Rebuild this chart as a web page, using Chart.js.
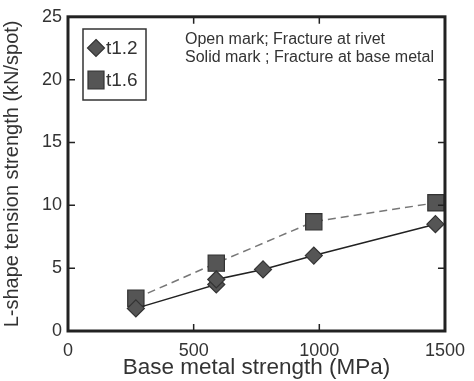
<!DOCTYPE html>
<html>
<head>
<meta charset="utf-8">
<script src="https://cdn.jsdelivr.net/npm/chart.js@4.4.0/dist/chart.umd.min.js"></script>
<style>
  html, body { margin: 0; padding: 0; background: #fff; }
  #wrap { width: 474px; height: 381px; }
</style>
</head>
<body>
<div id="wrap"><canvas id="chart"></canvas></div>
<script>
// 資料
const t12X = [270, 590, 590, 776, 978, 1462];
const t12Y = [1.8, 3.7, 4.1, 4.9, 6.0, 8.5];
const t16X = [270, 590, 978, 1464];
const t16Y = [2.6, 5.4, 8.7, 10.2];
const xTicks = [0, 500, 1000, 1500];
const yTicks = [0, 5, 10, 15, 20, 25];
const notes = ['Open mark; Fracture at rivet', 'Solid mark ; Fracture at base metal'];

const FONT = 'Arial, "Liberation Sans", Helvetica, sans-serif';

function pts(xs, ys) {
    return xs.map((x, i) => ({ x, y: ys[i] }));
}

// 外框、內向刻度、圖例與註解
const framePlugin = {
    id: 'frame',
    afterDraw(chart) {
        const { ctx, chartArea: a, scales } = chart;
        ctx.save();
        ctx.strokeStyle = '#222';
        ctx.lineWidth = 3;
        ctx.strokeRect(a.left, a.top, a.right - a.left, a.bottom - a.top);
        ctx.lineWidth = 1.5;
        const len = 7;
        xTicks.forEach(v => {
            const px = scales.x.getPixelForValue(v);
            ctx.beginPath();
            ctx.moveTo(px, a.bottom); ctx.lineTo(px, a.bottom - len);
            ctx.moveTo(px, a.top); ctx.lineTo(px, a.top + len);
            ctx.stroke();
        });
        yTicks.forEach(v => {
            const py = scales.y.getPixelForValue(v);
            ctx.beginPath();
            ctx.moveTo(a.left, py); ctx.lineTo(a.left + len, py);
            ctx.moveTo(a.right, py); ctx.lineTo(a.right - len, py);
            ctx.stroke();
        });

        // 圖例
        const lx = 83, ly = 29, lw = 63, lh = 71;
        ctx.lineWidth = 1.5;
        ctx.strokeStyle = '#333';
        ctx.fillStyle = '#fff';
        ctx.fillRect(lx, ly, lw, lh);
        ctx.strokeRect(lx, ly, lw, lh);
        const items = [
            { ds: chart.data.datasets[0], y: 48 },
            { ds: chart.data.datasets[1], y: 80 }
        ];
        items.forEach(it => {
            ctx.fillStyle = '#555';
            ctx.strokeStyle = '#333';
            ctx.lineWidth = 1.2;
            ctx.beginPath();
            const cx = 96;
            if (it.ds.pointStyle === 'rectRot') {
                const r = 8.5;
                ctx.moveTo(cx, it.y - r); ctx.lineTo(cx + r, it.y);
                ctx.lineTo(cx, it.y + r); ctx.lineTo(cx - r, it.y);
                ctx.closePath();
            } else {
                ctx.rect(cx - 8, it.y - 9, 16, 18);
            }
            ctx.fill(); ctx.stroke();
            ctx.fillStyle = '#333';
            ctx.font = '19px ' + FONT;
            ctx.textBaseline = 'middle';
            ctx.textAlign = 'left';
            ctx.fillText(it.ds.label, 106, it.y + 1);
        });

        ctx.font = '16px ' + FONT;
        ctx.fillStyle = '#333';
        ctx.textBaseline = 'middle';
        ctx.fillText(notes[0], 185, 40);
        ctx.fillText(notes[1], 185, 58);
        ctx.restore();
    }
};

const ctx = document.getElementById('chart').getContext('2d');
new Chart(ctx, {
    type: 'scatter',
    data: {
        datasets: [
            {
                label: 't1.2',
                data: pts(t12X, t12Y),
                showLine: true,
                borderColor: '#222',
                borderWidth: 1.5,
                pointStyle: 'rectRot',
                pointRadius: 8.5,
                pointBackgroundColor: '#555',
                pointBorderColor: '#333',
                pointBorderWidth: 1.2
            },
            {
                label: 't1.6',
                data: pts(t16X, t16Y),
                showLine: true,
                borderColor: '#777',
                borderWidth: 1.5,
                borderDash: [8, 5],
                pointStyle: 'rect',
                pointRadius: 11.5,
                pointBackgroundColor: '#555',
                pointBorderColor: '#333',
                pointBorderWidth: 1.2
            }
        ]
    },
    options: {
        responsive: true,
        maintainAspectRatio: false,
        animation: false,
        layout: { padding: { top: 15, right: 27, left: 0, bottom: 0 } },
        plugins: { legend: { display: false }, tooltip: { enabled: false } },
        scales: {
            x: {
                type: 'linear',
                min: 0, max: 1500,
                grid: { display: false, drawTicks: false },
                border: { display: false },
                afterBuildTicks: s => { s.ticks = xTicks.map(v => ({ value: v })); },
                afterFit: s => { s.height = 50; },
                ticks: { color: '#333', font: { family: FONT, size: 18 }, padding: 9, maxRotation: 0, callback: v => String(v) },
                title: { display: true, text: 'Base metal strength (MPa)', color: '#333', font: { family: FONT, size: 22.5 }, padding: { top: 0, bottom: 0 } }
            },
            y: {
                min: 0, max: 25,
                grid: { display: false, drawTicks: false },
                border: { display: false },
                afterBuildTicks: s => { s.ticks = yTicks.map(v => ({ value: v })); },
                afterFit: s => { s.width = 68; },
                ticks: { color: '#333', font: { family: FONT, size: 18 }, padding: 6, callback: v => String(v) },
                title: { display: true, text: 'L-shape tension strength (kN/spot)', color: '#333', font: { family: FONT, size: 20 }, padding: { top: 0, bottom: 0 } }
            }
        }
    },
    plugins: [framePlugin]
});
</script>
</body>
</html>
